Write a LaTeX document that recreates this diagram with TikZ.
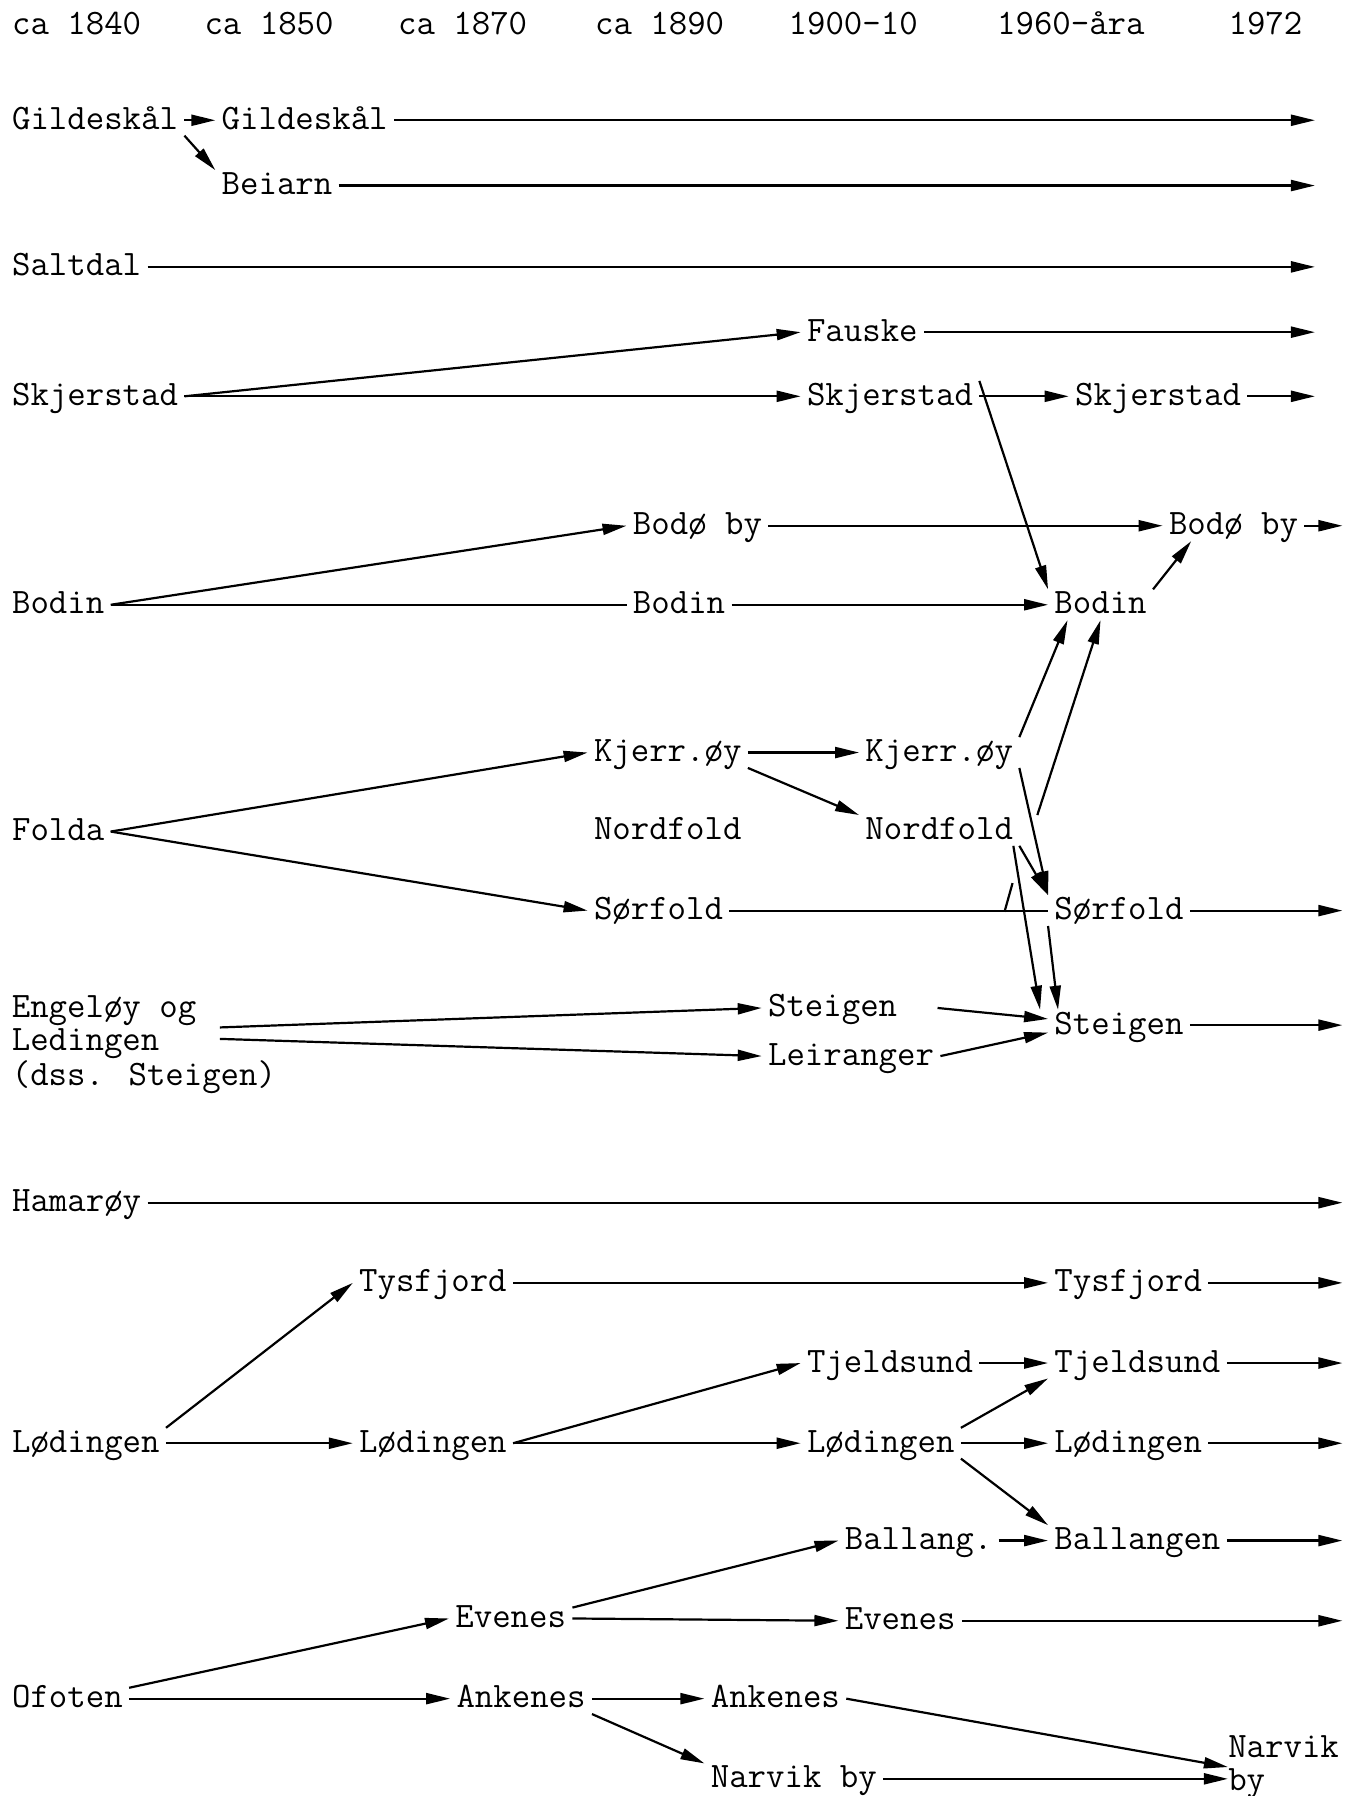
\documentclass[tikz,border=0pt]{standalone}
\usepackage{fontspec}
\usetikzlibrary{arrows.meta,calc}

\begin{document}
\begin{tikzpicture}[x=0.5728pt,y=-0.5728pt,
    lbl/.style={anchor=west,inner xsep=3pt,inner ysep=1pt,text height=11pt,text depth=2pt,
        font=\ttfamily\fontsize{17.9pt}{16.3pt}\selectfont},
    blk/.style={anchor=north west,inner sep=0pt,align=left,
        font=\ttfamily\fontsize{17.9pt}{16.3pt}\selectfont},
    arr/.style={line width=1.1pt,-{Triangle[length=12pt,width=5.5pt]}},
    noarr/.style={line width=1.1pt}]
    \useasboundingbox (0,0) rectangle (1181,1568);
    \foreach \x/\t [count=\i] in {10/ca 1840,178/ca 1850,347/ca 1870,519/ca 1890,688/1900-10,870/1960-åra,1072/1972} {
        \node [lbl] (h\i) at (\x-5,22) {\t};
    }
    \node [lbl] (gil1) at (5,105) {Gildeskål};
    \node [lbl] (gil2) at (188,105) {Gildeskål};
    \node [lbl] (bei) at (188,162) {Beiarn};
    \node [lbl] (sal) at (5,233) {Saltdal};
    \node [lbl] (fau) at (699,290) {Fauske};
    \node [lbl] (skj1) at (5,346) {Skjerstad};
    \node [lbl] (skj2) at (699,346) {Skjerstad};
    \node [lbl] (skj3) at (933,346) {Skjerstad};
    \node [lbl] (bby1) at (547,459) {Bodø by};
    \node [lbl] (bby2) at (1015,459) {Bodø by};
    \node [lbl] (bod1) at (5,528) {Bodin};
    \node [lbl] (bod2) at (547,528) {Bodin};
    \node [lbl] (bod3) at (915,528) {Bodin};
    \node [lbl] (fol) at (5,726) {Folda};
    \node [lbl] (kje1) at (513,657) {Kjerr.øy};
    \node [lbl] (kje2) at (750,657) {Kjerr.øy};
    \node [lbl] (nor1) at (513,725) {Nordfold};
    \node [lbl] (nor2) at (750,725) {Nordfold};
    \node [lbl] (sor1) at (513,795) {Sørfold};
    \node [lbl] (sor2) at (915,795) {Sørfold};
    \node [blk] (eng) at (10,869) {Engeløy og\\Ledingen\\(dss. Steigen)};
    \node [lbl] (ste1) at (665,880) {Steigen};
    \node [lbl] (lei) at (665,922) {Leiranger};
    \node [lbl] (ste2) at (915,895) {Steigen};
    \node [lbl] (ham) at (5,1050) {Hamarøy};
    \node [lbl] (tys1) at (308,1120) {Tysfjord};
    \node [lbl] (tys2) at (915,1120) {Tysfjord};
    \node [lbl] (tje1) at (699,1190) {Tjeldsund};
    \node [lbl] (tje2) at (915,1190) {Tjeldsund};
    \node [lbl] (lod1) at (5,1260) {Lødingen};
    \node [lbl] (lod2) at (308,1260) {Lødingen};
    \node [lbl] (lod3) at (699,1260) {Lødingen};
    \node [lbl] (lod4) at (915,1260) {Lødingen};
    \node [lbl] (bal1) at (732,1345) {Ballang.};
    \node [lbl] (bal2) at (915,1345) {Ballangen};
    \node [lbl] (eve1) at (392,1413) {Evenes};
    \node [lbl] (eve2) at (732,1415) {Evenes};
    \node [lbl] (ofo) at (5,1483) {Ofoten};
    \node [lbl] (ank1) at (393,1483) {Ankenes};
    \node [lbl] (ank2) at (615,1483) {Ankenes};
    \node [lbl] (nar1) at (615,1553) {Narvik by};
    \node [blk] (nar2) at (1072,1515) {Narvik\\by};

    \coordinate (endA) at (1148,0);
    \coordinate (endB) at (1172,0);
    \coordinate (eng-a) at ($(eng.north west)+(182,28)$);
    \coordinate (eng-b) at ($(eng.north west)+(182,38)$);

    \draw [arr] (gil1.east) -- (gil2.west);
    \draw [arr] (gil1.south east) -- (bei.north west);
    \draw [arr] (gil2.east) -- (gil2.east -| endA);
    \draw [arr] (bei.east) -- (bei.east -| endA);
    \draw [arr] (sal.east) -- (sal.east -| endA);
    \draw [arr] (skj1.east) -- (fau.west);
    \draw [arr] (skj1.east) -- (skj2.west);
    \draw [arr] (fau.east) -- (fau.east -| endA);
    \draw [arr] (skj2.east) -- (skj3.west);
    \draw [arr] (skj3.east) -- (skj3.east -| endA);
    \draw [arr] (skj2.north east) -- (bod3.north west);
    \draw [arr] (bod1.east) -- (bby1.west);
    \draw [noarr] (bod1.east) -- (bod2.west);
    \draw [arr] (bod2.east) -- (bod3.west);
    \draw [arr] (bby1.east) -- (bby2.west);
    \draw [arr] (bby2.east) -- (bby2.east -| endB);
    \draw [arr] (bod3.north east) -- (bby2.-160);

    \draw [arr] (fol.east) -- (kje1.west);
    \draw [arr] (fol.east) -- (sor1.west);
    \draw [arr] (kje1.east) -- (kje2.west);
    \draw [arr] (kje1.south east) -- (nor2.north west);
    \draw [arr] (kje2.north east) -- (bod3.-155);
    \draw [arr] ([xshift=9pt]nor2.north east) -- (bod3.south);
    \draw [arr] (kje2.south east) -- (sor2.north west);
    \draw [arr] (nor2.south east) -- (sor2.north west);
    \draw [arr] ([xshift=-3pt]nor2.south east) -- ([xshift=-4pt]ste2.north west);
    \draw [arr] (sor2.south west) -- ([xshift=5pt]ste2.north west);
    \draw [noarr] (sor1.east) -- (sor2.west);
    \draw [noarr] ($(sor2.west)+(-31,-24)$) -- ++(-7,25);
    \draw [arr] (sor2.east) -- (sor2.east -| endB);

    \draw [arr] (eng-a) -- (ste1.west);
    \draw [arr] (eng-b) -- (lei.west);
    \draw [arr] ([xshift=17pt]ste1.east) -- (ste2.175);
    \draw [arr] (lei.east) -- (ste2.-174);
    \draw [arr] (ste2.east) -- (ste2.east -| endB);
    \draw [arr] (ham.east) -- (ham.east -| endB);

    \draw [arr] (lod1.north east) -- (tys1.west);
    \draw [arr] (lod1.east) -- (lod2.west);
    \draw [arr] (tys1.east) -- (tys2.west);
    \draw [arr] (tys2.east) -- (tys2.east -| endB);
    \draw [arr] (lod2.east) -- (tje1.west);
    \draw [arr] (lod2.east) -- (lod3.west);
    \draw [arr] (tje1.east) -- (tje2.west);
    \draw [arr] (lod3.north east) -- (tje2.south west);
    \draw [arr] (lod3.east) -- (lod4.west);
    \draw [arr] (lod3.south east) -- (bal2.north west);
    \draw [arr] (tje2.east) -- (tje2.east -| endB);
    \draw [arr] (lod4.east) -- (lod4.east -| endB);
    \draw [arr] (bal1.east) -- (bal2.west);
    \draw [arr] (bal2.east) -- (bal2.east -| endB);

    \draw [arr] (eve1.10) -- (bal1.west);
    \draw [arr] (eve1.east) -- (eve2.west);
    \draw [arr] (eve2.east) -- (eve2.east -| endB);
    \draw [arr] (ofo.10) -- (eve1.west);
    \draw [arr] (ofo.east) -- (ank1.west);
    \draw [arr] (ank1.east) -- (ank2.west);
    \draw [arr] (ank1.south east) -- (nar1.north west);
    \draw [arr] (ank2.east) -- (nar2.west);
    \draw [arr] (nar1.east) -- (nar1.east -| nar2.west);
\end{tikzpicture}
\end{document}
